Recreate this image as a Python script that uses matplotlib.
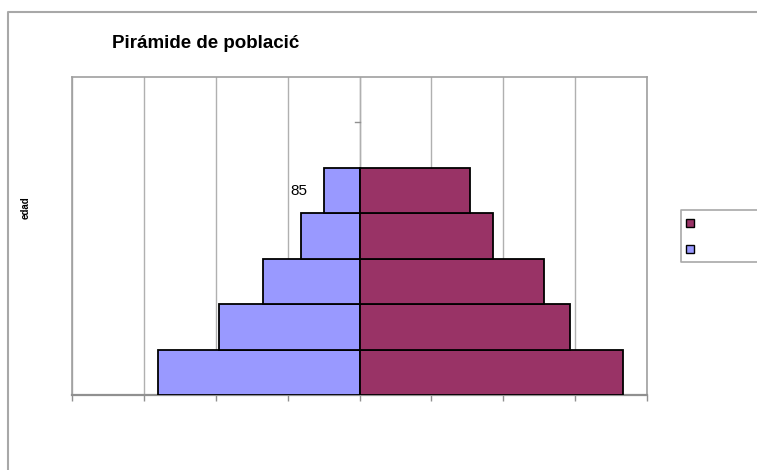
import matplotlib
matplotlib.use("Agg")
import matplotlib.pyplot as plt
from matplotlib.lines import Line2D
from matplotlib.patches import Rectangle

plt.rcParams['font.family'] = ['Liberation Sans', 'DejaVu Sans']

# Data (age groups, bottom to top)
groups = ["0", "20", "40", "65", "85"]
hombres = [2.81, 1.95, 1.34, 0.81, 0.49]    # left side (blue)
mujeres = [3.66, 2.93, 2.56, 1.86, 1.54]    # right side (maroon)
title = "Pirámide de poblacić"
ylabel = "edad"
label_top = "85"

W, H = 757, 470
fig = plt.figure(figsize=(W / 100, H / 100), dpi=100)

def fx(px):
    return px / W

def fy(py):
    return 1 - py / H

ax = fig.add_axes([fx(72), fy(395), fx(647) - fx(72), fy(77) - fy(395)])

ypos = list(range(len(groups)))
ax.barh(ypos, [-v for v in hombres], height=1.0, color="#9999FF",
        edgecolor="black", linewidth=1.3, zorder=3)
ax.barh(ypos, mujeres, height=1.0, color="#993366",
        edgecolor="black", linewidth=1.3, zorder=3)

ax.set_xlim(-4, 4)
ax.set_ylim(-0.5, 6.5)
ax.set_xticks(range(-4, 5))
ax.set_xticklabels([])
ax.set_yticks([])
ax.tick_params(axis='x', direction='out', length=4, color="#909090", width=1)
ax.grid(axis='x', color="#b0b0b0", linewidth=1, zorder=0)
for s in ax.spines.values():
    s.set_color("#a0a0a0")
    s.set_linewidth(1.2)
ax.spines['bottom'].set_color("#909090")
ax.spines['bottom'].set_linewidth(1.6)

# central category axis
ax.axvline(0, color="#b0b0b0", linewidth=1, zorder=1)
ax.plot([-0.06, 0], [5.5, 5.5], color="#909090", linewidth=1, zorder=2)

ax.text(-0.72, ypos[-1], label_top, ha='right', va='center', fontsize=11)

fig.text(fx(206), fy(43), title, ha='center', va='center',
         fontsize=13.5, fontweight='bold')
fig.text(fx(26), fy(208), ylabel, ha='center', va='center',
         fontsize=7, fontweight='bold', rotation=90)

# outer chart border
fig.add_artist(Line2D([fx(8), fx(8), fx(760)], [fy(470), fy(12), fy(12)],
                      color="#a8a8a8", linewidth=1.5))

# legend box (labels cut off)
fig.add_artist(Line2D([fx(760), fx(681), fx(681), fx(760)],
                      [fy(210), fy(210), fy(262), fy(262)],
                      color="#a8a8a8", linewidth=1.2))
fig.add_artist(Rectangle((fx(686), fy(227)), fx(8), 8 / H,
                         facecolor="#993366", edgecolor="black", linewidth=1))
fig.add_artist(Rectangle((fx(686), fy(253)), fx(8), 8 / H,
                         facecolor="#9999FF", edgecolor="black", linewidth=1))

fig.savefig("out.png", dpi=100)
